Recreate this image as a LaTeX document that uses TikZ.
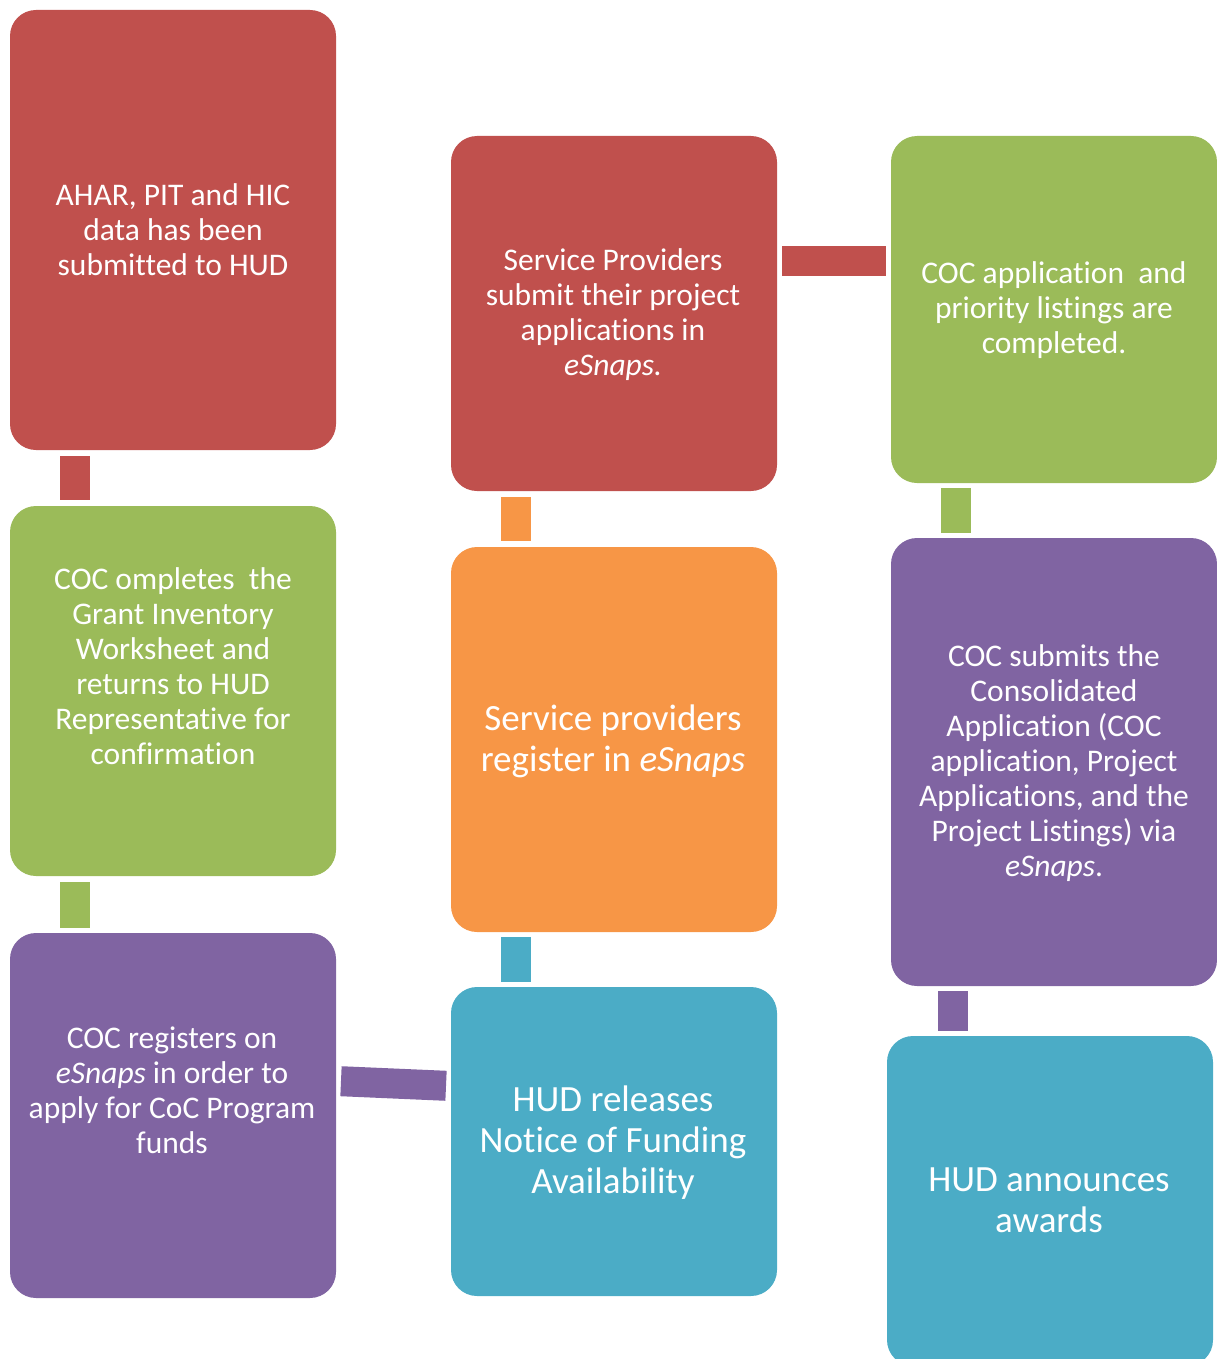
\documentclass[tikz,border=0pt]{standalone}
\usepackage{fontspec}
\setmainfont{Carlito}[RawFeature={-liga;-calt;-dlig;-clig}]
\usetikzlibrary{calc}
\definecolor{cred}{HTML}{C0504D}
\definecolor{cgreen}{HTML}{9BBB59}
\definecolor{cpurple}{HTML}{8064A2}
\definecolor{corange}{HTML}{F79646}
\definecolor{cblue}{HTML}{4BACC6}
\tikzset{
  stepbox/.style={rounded corners=26pt, inner sep=0pt, outer sep=0pt, minimum width=326pt, anchor=north west},
  smalltxt/.style={text=white, align=center, font=\fontsize{31.5}{35}\selectfont, inner sep=0pt},
  bigtxt/.style={text=white, align=center, font=\fontsize{37}{41}\selectfont, inner sep=0pt},
  bar/.style={line width=30pt, shorten >=5pt, shorten <=5pt}
}
\begin{document}
\begin{tikzpicture}[x=1pt,y=-1pt]
\useasboundingbox (0,0) rectangle (1217,1359);
\begin{scope}
\clip (0,0) rectangle (1217,1359);
% column 1
\node[stepbox, fill=cred, minimum height=440pt] (A) at (10,10) {};
\node[stepbox, fill=cgreen, minimum height=370pt] (B) at (10,506) {};
\node[stepbox, fill=cpurple, minimum height=365pt] (C) at (10,933) {};
% column 2
\node[stepbox, fill=cred, minimum height=355pt] (D) at (451,136) {};
\node[stepbox, fill=corange, minimum height=385pt] (E) at (451,547) {};
\node[stepbox, fill=cblue, minimum height=309pt] (F) at (451,987) {};
% column 3
\node[stepbox, fill=cgreen, minimum height=347pt] (G) at (891,136) {};
\node[stepbox, fill=cpurple, minimum height=448pt] (H) at (891,538) {};
\node[stepbox, fill=cblue, minimum height=330pt] (I) at (887,1036) {};
\end{scope}
% texts
\node[smalltxt] (tA) at (173,230) {AHAR, PIT and HIC\\data has been\\submitted to HUD};
\node[smalltxt] (tB) at (173,666) {COC ompletes\ \ the\\Grant Inventory\\Worksheet and\\returns to HUD\\Representative for\\confirmation};
\node[smalltxt] (tC) at (172,1090) {COC registers on\\\textit{eSnaps} in order to\\apply for CoC Program\\funds};
\node[smalltxt] (tD) at (613,315) {Service Providers\\submit their project\\applications in\\\textit{eSnaps.}};
\node[bigtxt] (tE) at (613,741) {Service providers\\register in \textit{eSnaps}};
\node[bigtxt] (tF) at (613,1143) {HUD releases\\Notice of Funding\\Availability};
\node[smalltxt] (tG) at (1054,310) {COC application\ \ and\\priority listings are\\completed.};
\node[smalltxt] (tH) at (1054,763) {COC submits the\\Consolidated\\Application (COC\\application, Project\\Applications, and the\\Project Listings) via\\\textit{eSnaps}.};
\node[bigtxt] (tI) at (1049,1200) {HUD announces\\awards};
% connectors
\draw[bar, cred, shorten <=6pt, shorten >=6pt] ($(A.south west)+(65,0)$) -- ($(B.north west)+(65,0)$);
\draw[bar, cgreen, shorten <=6pt] ($(B.south west)+(65,0)$) -- ($(C.north west)+(65,0)$);
\draw[bar, corange, shorten <=6pt, shorten >=6pt] ($(D.south west)+(65,0)$) -- ($(E.north west)+(65,0)$);
\draw[bar, cblue] ($(E.south west)+(65,0)$) -- ($(F.north west)+(65,0)$);
\draw[bar, cgreen] ($(G.south west)+(65,0)$) -- ($(H.north west)+(65,0)$);
\draw[bar, cpurple] ($(H.south west)+(62,0)$) -- ($(I.north west)+(66,0)$);
\draw[bar, cred] ($(D.north east)+(0,125)$) -- ($(G.north west)+(0,125)$);
\draw[bar, cpurple] ($(C.north east)+(0,148)$) -- ($(F.north west)+(0,99)$);
\end{tikzpicture}
\end{document}
